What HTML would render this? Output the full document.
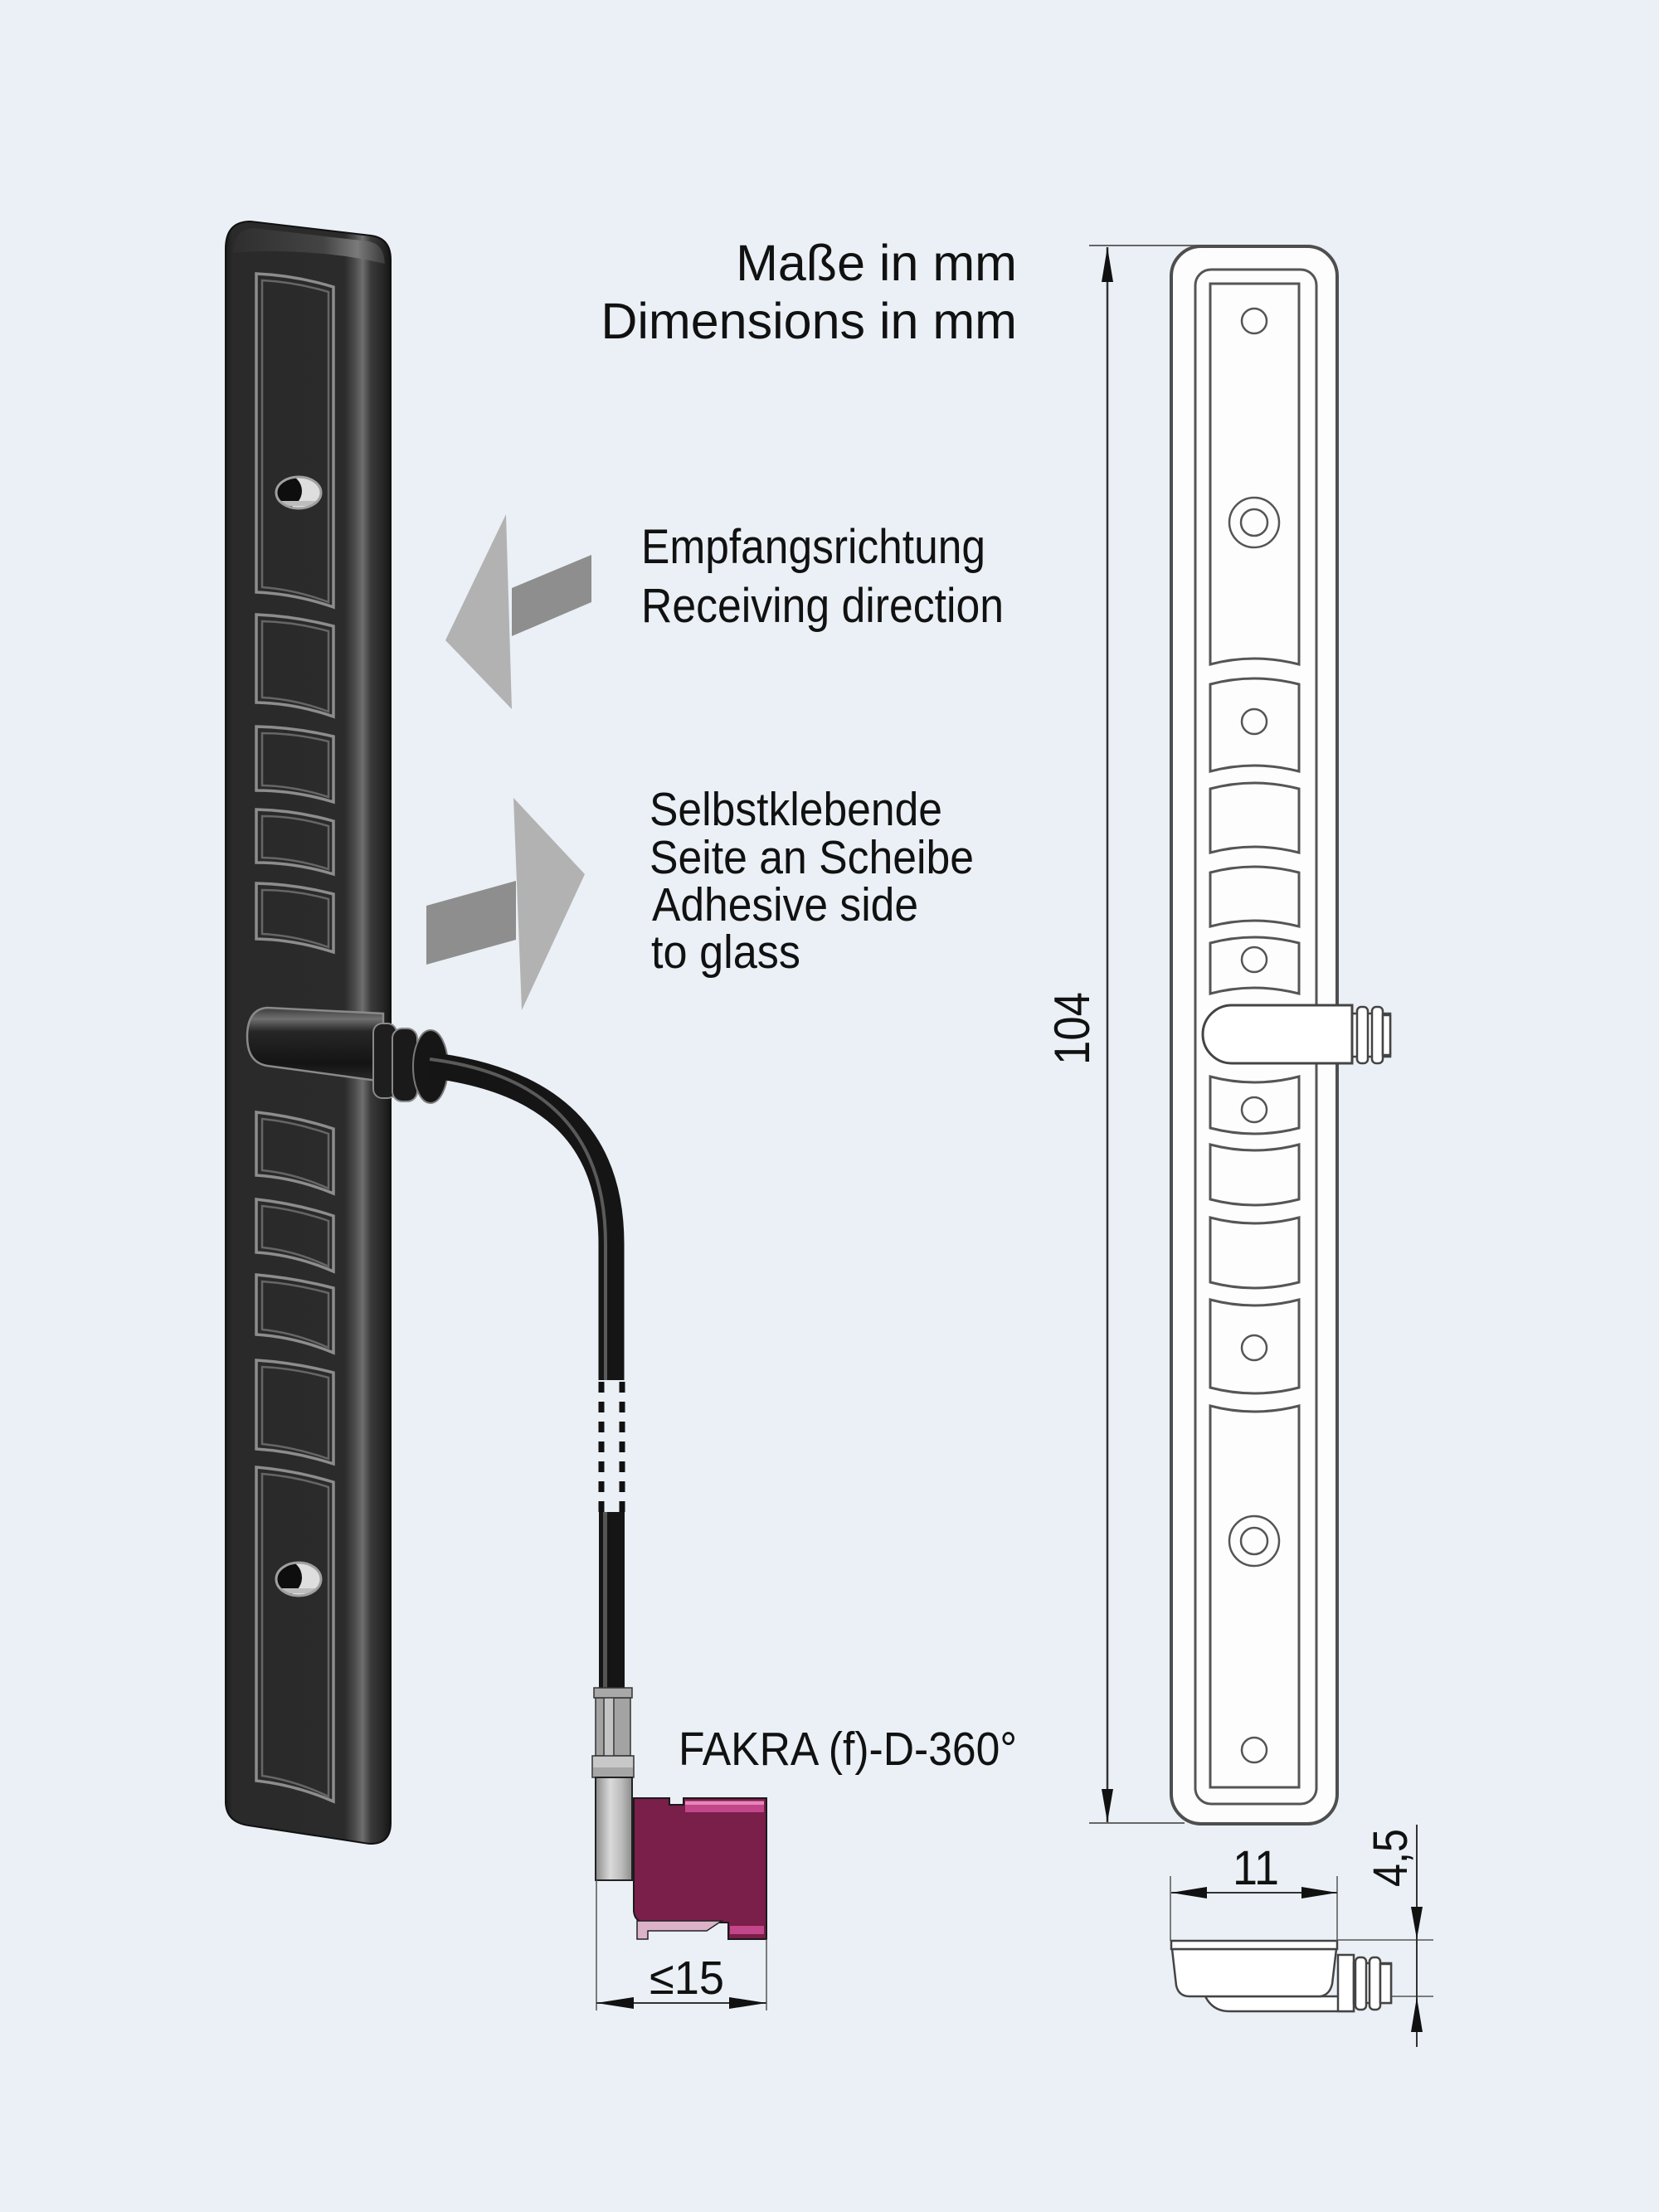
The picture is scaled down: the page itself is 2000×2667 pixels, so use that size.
<!DOCTYPE html>
<html><head><meta charset="utf-8">
<style>
html,body{margin:0;padding:0;background:#eaf0f5;}
svg{display:block}
text{font-family:"Liberation Sans",Arial,sans-serif;fill:#111}
</style></head><body>
<svg width="2000" height="2667" viewBox="0 0 2000 2667" xmlns="http://www.w3.org/2000/svg">
<defs>
<linearGradient id="barG" x1="272" y1="0" x2="471" y2="0" gradientUnits="userSpaceOnUse">
 <stop offset="0" stop-color="#1a1a1a"/>
 <stop offset="0.04" stop-color="#2a2a2a"/>
 <stop offset="0.72" stop-color="#2b2b2b"/>
 <stop offset="0.78" stop-color="#4a4a4a"/>
 <stop offset="0.83" stop-color="#6e6e6e"/>
 <stop offset="0.88" stop-color="#3a3a3a"/>
 <stop offset="0.96" stop-color="#242424"/>
 <stop offset="1" stop-color="#141414"/>
</linearGradient>
<linearGradient id="topG" x1="280" y1="0" x2="464" y2="0" gradientUnits="userSpaceOnUse">
 <stop offset="0" stop-color="#2e2e2e"/>
 <stop offset="0.6" stop-color="#444"/>
 <stop offset="0.82" stop-color="#7a7a7a"/>
 <stop offset="1" stop-color="#3a3a3a"/>
</linearGradient>
<linearGradient id="glandG" x1="0" y1="1215" x2="0" y2="1305" gradientUnits="userSpaceOnUse">
 <stop offset="0" stop-color="#3a3a3a"/>
 <stop offset="0.15" stop-color="#707070"/>
 <stop offset="0.32" stop-color="#262626"/>
 <stop offset="0.75" stop-color="#141414"/>
 <stop offset="1" stop-color="#2a2a2a"/>
</linearGradient>
<linearGradient id="elbowG" x1="718" y1="0" x2="762" y2="0" gradientUnits="userSpaceOnUse">
 <stop offset="0" stop-color="#8a8a8a"/>
 <stop offset="0.4" stop-color="#dadada"/>
 <stop offset="0.7" stop-color="#bdbdbd"/>
 <stop offset="1" stop-color="#8c8c8c"/>
</linearGradient>
<clipPath id="h1"><ellipse cx="360" cy="594" rx="27" ry="19"/></clipPath>
<clipPath id="h2"><ellipse cx="360" cy="1904" rx="27" ry="20"/></clipPath>
</defs>

<rect width="2000" height="2667" fill="#eaf0f5"/>

<!-- ===== LEFT DARK ANTENNA ===== -->
<path d="M272 300 Q272 267 302 267 L447 284 Q471 287 471 313 L471 2198 Q471 2224 445 2223 L300 2201 Q272 2197 272 2172 Z" fill="url(#barG)" stroke="#111" stroke-width="2"/>
<path d="M281 305 Q282 276 306 275 L444 291 Q463 294 464 318 Q430 310 400 307 Q330 300 281 305 Z" fill="url(#topG)"/>

<g fill="none" stroke="#8d8d8d" stroke-width="3.5">
 <path d="M309 330 Q356 332 402 346 L402 732 Q356 716 309 714 Z"/>
 <path d="M309 741 Q356 743 402 755 L402 864 Q356 848 309 847 Z"/>
 <path d="M309 876 Q356 877 402 888 L402 967 Q356 953 309 953 Z"/>
 <path d="M309 976 Q356 977 402 990 L402 1054 Q356 1040 309 1040 Z"/>
 <path d="M309 1065 Q356 1066 402 1078 L402 1148 Q356 1133 309 1132 Z"/>
 <path d="M309 1341 Q356 1346 402 1361 L402 1439 Q356 1420 309 1417 Z"/>
 <path d="M309 1446 Q356 1451 402 1466 L402 1533 Q356 1513 309 1510 Z"/>
 <path d="M309 1537 Q356 1541 402 1553 L402 1631 Q356 1612 309 1609 Z"/>
 <path d="M309 1640 Q356 1643 402 1655 L402 1765 Q356 1750 309 1747 Z"/>
 <path d="M309 1769 Q356 1773 402 1787 L402 2172 Q356 2152 309 2147 Z"/>
</g>
<g fill="none" stroke="#666" stroke-width="2.5">
 <path d="M316 338 Q356 340 396 352 L396 726 Q356 711 316 708 Z"/>
 <path d="M316 749 Q356 750 396 761 L396 858 Q356 843 316 841 Z"/>
 <path d="M316 884 Q356 884 396 894 L396 961 Q356 948 316 947 Z"/>
 <path d="M316 984 Q356 984 396 996 L396 1048 Q356 1035 316 1034 Z"/>
 <path d="M316 1073 Q356 1073 396 1084 L396 1142 Q356 1128 316 1126 Z"/>
 <path d="M316 1349 Q356 1353 396 1367 L396 1433 Q356 1415 316 1411 Z"/>
 <path d="M316 1454 Q356 1458 396 1472 L396 1527 Q356 1508 316 1504 Z"/>
 <path d="M316 1545 Q356 1548 396 1559 L396 1625 Q356 1607 316 1603 Z"/>
 <path d="M316 1648 Q356 1650 396 1661 L396 1759 Q356 1745 316 1741 Z"/>
 <path d="M316 1777 Q356 1780 396 1793 L396 2166 Q356 2147 316 2141 Z"/>
</g>

<!-- holes left -->
<ellipse cx="360" cy="594" rx="27" ry="19" fill="#dedede"/>
<g clip-path="url(#h1)">
 <ellipse cx="344" cy="592" rx="20" ry="20" fill="#0e0e0e"/>
 <rect x="330" y="604" width="60" height="6" fill="#bdbdbd"/>
</g>
<ellipse cx="360" cy="594" rx="27" ry="19" fill="none" stroke="#a0a0a0" stroke-width="3"/>
<ellipse cx="360" cy="1904" rx="27" ry="20" fill="#dedede"/>
<g clip-path="url(#h2)">
 <ellipse cx="344" cy="1902" rx="20" ry="21" fill="#0e0e0e"/>
 <rect x="330" y="1915" width="60" height="6" fill="#bdbdbd"/>
</g>
<ellipse cx="360" cy="1904" rx="27" ry="20" fill="none" stroke="#a0a0a0" stroke-width="3"/>

<!-- gland left -->
<path d="M322 1215 L462 1222 L462 1304 L322 1285 Q298 1281 298 1250 Q298 1217 322 1215 Z" fill="url(#glandG)" stroke="#8a8a8a" stroke-width="2.5"/>
<rect x="450" y="1234" width="28" height="90" rx="11" fill="#1e1e1e" stroke="#8a8a8a" stroke-width="2"/>
<rect x="473" y="1240" width="30" height="88" rx="12" fill="#1a1a1a" stroke="#8a8a8a" stroke-width="2"/>
<ellipse cx="519" cy="1286" rx="21" ry="44" fill="#161616" stroke="#7a7a7a" stroke-width="2"/>

<!-- cable -->
<path d="M517 1284 C650 1300 737 1360 737 1500 L737 1664" fill="none" stroke="#151515" stroke-width="31"/>
<path d="M518 1277 C645 1293 730 1356 730 1500 L730 1664" fill="none" stroke="#5a5a5a" stroke-width="4"/>
<line x1="725" y1="1666" x2="725" y2="1823" stroke="#111" stroke-width="7" stroke-dasharray="13 11"/>
<line x1="750" y1="1666" x2="750" y2="1823" stroke="#111" stroke-width="7" stroke-dasharray="13 11"/>
<rect x="722" y="1823" width="31" height="212" fill="#151515"/>
<rect x="727" y="1823" width="5" height="212" fill="#555"/>

<!-- metal connector parts -->
<rect x="718" y="2047" width="42" height="70" fill="#a3a3a3" stroke="#333" stroke-width="1.5"/>
<rect x="729" y="2047" width="10" height="70" fill="#c4c4c4"/>
<line x1="728" y1="2047" x2="728" y2="2117" stroke="#555" stroke-width="2"/>
<line x1="740" y1="2047" x2="740" y2="2117" stroke="#555" stroke-width="2"/>
<rect x="716" y="2035" width="46" height="12" fill="#a8a8a8" stroke="#333" stroke-width="1.5"/>
<rect x="714" y="2117" width="50" height="26" fill="#c8c8c8" stroke="#333" stroke-width="1.5"/>
<rect x="715" y="2131" width="48" height="11" fill="#a6a6a6"/>
<rect x="718" y="2143" width="44" height="124" fill="url(#elbowG)" stroke="#222" stroke-width="2"/>

<!-- magenta FAKRA -->
<path d="M764 2168 L807 2168 L807 2176 L824 2176 L824 2168 L924 2168 L924 2338 L878 2338 L878 2318 L776 2318 Q765 2316 764 2304 Z" fill="#7a1e4a" stroke="#1a1a1a" stroke-width="2"/>
<path d="M768 2316 L870 2316 L852 2328 L781 2328 L781 2338 L768 2338 Z" fill="#dcb2c9" stroke="#222" stroke-width="1.5"/>
<rect x="826" y="2171" width="95" height="14" fill="#c2468a"/>
<rect x="826" y="2172" width="95" height="4" fill="#e486b9"/>
<rect x="880" y="2322" width="41" height="10" fill="#c2468a"/>

<!-- ≤15 dimension -->
<g stroke="#555" stroke-width="1.5">
 <line x1="719" y1="2267" x2="719" y2="2424"/>
 <line x1="924" y1="2338" x2="924" y2="2424"/>
</g>
<line x1="719" y1="2415" x2="924" y2="2415" stroke="#333" stroke-width="2"/>
<polygon points="719,2415 764,2408 764,2422" fill="#111"/>
<polygon points="924,2415 879,2408 879,2422" fill="#111"/>

<!-- arrows -->
<polygon points="617,709 713,669 713,726 617,767" fill="#8e8e8e"/>
<polygon points="537,772 610,620 617,855" fill="#b2b2b2"/>
<polygon points="514,1092 622,1062 622,1133 514,1163" fill="#8e8e8e"/>
<polygon points="619,962 705,1054 629,1218" fill="#b2b2b2"/>

<!-- texts -->
<text x="1226" y="338" font-size="61" text-anchor="end">Maße in mm</text>
<text x="1226" y="408" font-size="61" text-anchor="end">Dimensions in mm</text>
<text x="773" y="679" font-size="58" textLength="415" lengthAdjust="spacingAndGlyphs">Empfangsrichtung</text>
<text x="773" y="750" font-size="58" textLength="437" lengthAdjust="spacingAndGlyphs">Receiving direction</text>
<text x="783" y="995" font-size="57" textLength="353" lengthAdjust="spacingAndGlyphs">Selbstklebende</text>
<text x="783" y="1053" font-size="57" textLength="391" lengthAdjust="spacingAndGlyphs">Seite an Scheibe</text>
<text x="786" y="1110" font-size="57" textLength="321" lengthAdjust="spacingAndGlyphs">Adhesive side</text>
<text x="785" y="1167" font-size="57" textLength="180" lengthAdjust="spacingAndGlyphs">to glass</text>
<text x="818" y="2128" font-size="57" textLength="408" lengthAdjust="spacingAndGlyphs">FAKRA (f)-D-360°</text>
<text x="783" y="2404" font-size="57" textLength="90" lengthAdjust="spacingAndGlyphs">≤15</text>

<!-- ===== RIGHT LINE DRAWING ===== -->
<line x1="1313" y1="296" x2="1466" y2="296" stroke="#666" stroke-width="2"/>
<line x1="1313" y1="2198" x2="1428" y2="2198" stroke="#666" stroke-width="2"/>
<line x1="1335" y1="298" x2="1335" y2="2197" stroke="#333" stroke-width="2.5"/>
<polygon points="1335,298 1328,340 1342,340" fill="#111"/>
<polygon points="1335,2197 1328,2157 1342,2157" fill="#111"/>
<text transform="translate(1313,1240) rotate(-90)" x="0" y="0" font-size="60" text-anchor="middle" textLength="88" lengthAdjust="spacingAndGlyphs">104</text>

<rect x="1412" y="297" width="200" height="1902" rx="36" fill="#fdfdfd" stroke="#4e4e4e" stroke-width="4"/>
<rect x="1441" y="325" width="146" height="1850" rx="19" fill="none" stroke="#555" stroke-width="3"/>

<g fill="none" stroke="#555" stroke-width="3">
 <path d="M1459 342 L1566 342 L1566 801 Q1512 787 1459 801 Z"/>
 <path d="M1459 825 Q1512 811 1566 825 L1566 930 Q1512 916 1459 930 Z"/>
 <path d="M1459 951 Q1512 937 1566 951 L1566 1028 Q1512 1014 1459 1028 Z"/>
 <path d="M1459 1052 Q1512 1038 1566 1052 L1566 1117 Q1512 1103 1459 1117 Z"/>
 <path d="M1459 1137 Q1512 1123 1566 1137 L1566 1198 Q1512 1184 1459 1198 Z"/>
 <path d="M1459 1298 Q1512 1312 1566 1298 L1566 1360 Q1512 1374 1459 1360 Z"/>
 <path d="M1459 1380 Q1512 1394 1566 1380 L1566 1446 Q1512 1460 1459 1446 Z"/>
 <path d="M1459 1468 Q1512 1482 1566 1468 L1566 1546 Q1512 1560 1459 1546 Z"/>
 <path d="M1459 1567 Q1512 1581 1566 1567 L1566 1673 Q1512 1687 1459 1673 Z"/>
 <path d="M1459 1695 Q1512 1709 1566 1695 L1566 2155 L1459 2155 Z"/>
</g>
<g fill="none" stroke="#555" stroke-width="2.5">
 <circle cx="1512" cy="387" r="15"/>
 <circle cx="1512" cy="630" r="30"/>
 <circle cx="1512" cy="630" r="16"/>
 <circle cx="1512" cy="870" r="15"/>
 <circle cx="1512" cy="1157" r="15"/>
 <circle cx="1512" cy="1338" r="15"/>
 <circle cx="1512" cy="1625" r="15"/>
 <circle cx="1512" cy="1858" r="30"/>
 <circle cx="1512" cy="1858" r="16"/>
 <circle cx="1512" cy="2110" r="15"/>
</g>

<!-- front gland -->
<rect x="1628" y="1222" width="48" height="52" fill="#fff" stroke="#444" stroke-width="2.5"/>
<rect x="1636" y="1214" width="13" height="68" rx="5" fill="#fff" stroke="#444" stroke-width="2.5"/>
<rect x="1654" y="1214" width="13" height="68" rx="5" fill="#fff" stroke="#444" stroke-width="2.5"/>
<rect x="1667" y="1224" width="9" height="48" fill="#fff" stroke="#444" stroke-width="2.5"/>
<path d="M1485 1212 L1630 1212 L1630 1282 L1485 1282 A35 35 0 0 1 1485 1212 Z" fill="#fff" stroke="#444" stroke-width="3"/>

<!-- 11 dimension -->
<g stroke="#555" stroke-width="1.5">
 <line x1="1411" y1="2262" x2="1411" y2="2340"/>
 <line x1="1612" y1="2262" x2="1612" y2="2340"/>
</g>
<line x1="1412" y1="2282" x2="1612" y2="2282" stroke="#333" stroke-width="2"/>
<polygon points="1412,2282 1455,2275 1455,2289" fill="#111"/>
<polygon points="1612,2282 1569,2275 1569,2289" fill="#111"/>
<text x="1514" y="2272" font-size="58" text-anchor="middle" textLength="56" lengthAdjust="spacingAndGlyphs">11</text>

<!-- side view -->
<path d="M1453 2407 Q1462 2425 1482 2425 L1632 2425 L1632 2407 Z" fill="#fff" stroke="#444" stroke-width="2.5"/>
<rect x="1613" y="2357" width="19" height="68" fill="#fff" stroke="#444" stroke-width="2.5"/>
<rect x="1632" y="2367" width="45" height="48" fill="#fff" stroke="#444" stroke-width="2.5"/>
<rect x="1634" y="2360" width="13" height="63" rx="5" fill="#fff" stroke="#444" stroke-width="2.5"/>
<rect x="1651" y="2360" width="13" height="63" rx="5" fill="#fff" stroke="#444" stroke-width="2.5"/>
<rect x="1664" y="2368" width="13" height="47" fill="#fff" stroke="#444" stroke-width="2.5"/>
<path d="M1413 2350 L1418 2394 Q1421 2407 1434 2407 L1592 2407 Q1603 2405 1606 2392 L1611 2350 Z" fill="#fff" stroke="#444" stroke-width="2.5"/>
<rect x="1412" y="2340" width="200" height="10" fill="#fff" stroke="#444" stroke-width="2.5"/>

<!-- 4,5 dimension -->
<g stroke="#555" stroke-width="1.5">
 <line x1="1613" y1="2339" x2="1728" y2="2339"/>
 <line x1="1677" y1="2407" x2="1728" y2="2407"/>
</g>
<line x1="1708" y1="2200" x2="1708" y2="2468" stroke="#333" stroke-width="2"/>
<polygon points="1708,2338 1701,2299 1715,2299" fill="#111"/>
<polygon points="1708,2408 1701,2450 1715,2450" fill="#111"/>
<text transform="translate(1696,2240) rotate(-90)" x="0" y="0" font-size="58" text-anchor="middle" textLength="70" lengthAdjust="spacingAndGlyphs">4,5</text>
</svg>
</body></html>
